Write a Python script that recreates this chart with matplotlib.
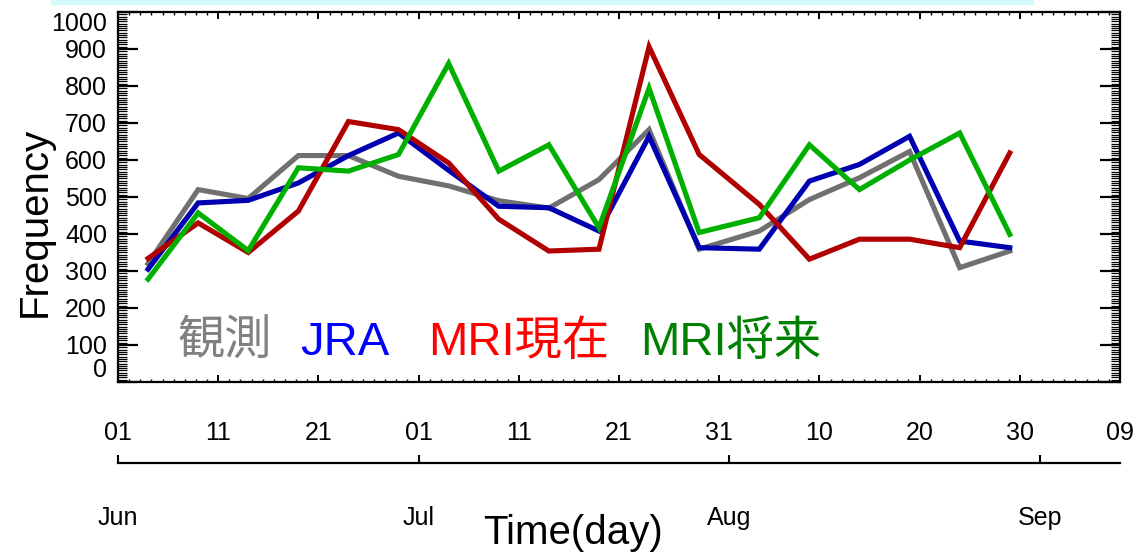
import matplotlib
matplotlib.use("Agg")
import matplotlib.pyplot as plt
from matplotlib.patches import Rectangle
from matplotlib.ticker import MultipleLocator

plt.rcParams['font.family'] = ['Liberation Sans', 'Noto Sans CJK JP']

# 半旬 positions, days since Jun 1
days = [3, 8, 13, 18, 23, 28, 33, 38, 43, 48, 53, 58, 64, 69, 74, 79, 84, 89]

obs = [320, 520, 496, 612, 612, 556, 530, 490, 470, 547, 682, 359, 408, 493, 552, 623, 309, 354]
jra = [305, 484, 491, 538, 612, 673, 572, 475, 471, 408, 664, 363, 359, 543, 588, 664, 381, 363]
mri_now = [334, 430, 350, 462, 704, 682, 592, 440, 354, 359, 906, 615, 480, 332, 386, 386, 363, 619]
mri_fut = [278, 457, 355, 579, 570, 615, 861, 570, 641, 417, 794, 404, 444, 641, 520, 600, 673, 399]

names = ['観測', 'JRA', 'MRI現在', 'MRI将来']
line_colors = ['#707070', '#0000b0', '#b00000', '#00b000']
text_colors = ['#808080', '#0000ff', '#ff0000', '#008000']

day_ticks = list(range(0, 101, 10))
day_labels = ['01', '11', '21', '01', '11', '21', '31', '10', '20', '30', '09']
month_ticks = [0, 30, 61, 92]
month_labels = ['Jun', 'Jul', 'Aug', 'Sep']

W, H = 1136, 554
fig = plt.figure(figsize=(W / 100, H / 100), dpi=100)
ax = fig.add_axes([118 / W, 172 / H, 1002 / W, 370 / H])

# thin cyan strip along the top edge
fig.patches.append(Rectangle((51 / W, 550 / H), 982 / W, 4 / H,
                             transform=fig.transFigure, color='#d6f9fb', zorder=0))

for series, c in zip([obs, jra, mri_now, mri_fut], line_colors):
    ax.plot(days, series, color=c, lw=3.7, solid_joinstyle='miter')

ax.set_xlim(0, 100)
ax.set_ylim(0, 1000)

for s in ax.spines.values():
    s.set_linewidth(1.6)

ax.xaxis.set_major_locator(MultipleLocator(10))
ax.xaxis.set_minor_locator(MultipleLocator(10 / 9))
ax.yaxis.set_major_locator(MultipleLocator(100))
ax.yaxis.set_minor_locator(MultipleLocator(100 / 16))
ax.tick_params(axis='x', which='both', direction='in', top=True, bottom=True,
               labelbottom=False)
ax.tick_params(axis='x', which='major', length=5, width=1.4)
ax.tick_params(axis='x', which='minor', length=2.5, width=1.0)
ax.tick_params(axis='y', which='both', direction='in', left=True, right=True)
ax.tick_params(axis='y', which='major', length=14.5, width=1.6, labelsize=18, pad=8)
ax.tick_params(axis='y', which='minor', length=6.5, width=0.9)

ax.set_yticks(range(0, 1001, 100))
ylabels = ax.get_yticklabels()
ylabels[0].set_va('bottom')
ylabels[-1].set_va('top')

# day-of-month labels
dax = ax.secondary_xaxis(-0.095)
dax.set_xticks(day_ticks)
dax.set_xticklabels(day_labels)
dax.tick_params(length=0, labelsize=18, pad=3)
dax.spines['bottom'].set_visible(False)

# month axis
max_ = ax.secondary_xaxis(-0.219)
max_.set_xticks(month_ticks)
max_.set_xticklabels(month_labels)
max_.tick_params(direction='in', length=6, width=1.5, labelsize=18, pad=31)
max_.spines['bottom'].set_linewidth(1.6)

fig.text(573 / W, (H - 533) / H, 'Time(day)', fontsize=29, ha='center', va='center')
fig.text(35 / W, (H - 222) / H, 'Frequency', fontsize=29, rotation=90,
         ha='center', va='center')

label_x = [178, 300, 428, 640]
for name, lx, c in zip(names, label_x, text_colors):
    ax.text((lx - 118) / 1002, (382 - 355) / 370, name, color=c, fontsize=34,
            transform=ax.transAxes, ha='left', va='baseline')

fig.savefig('out.png', dpi=100)
